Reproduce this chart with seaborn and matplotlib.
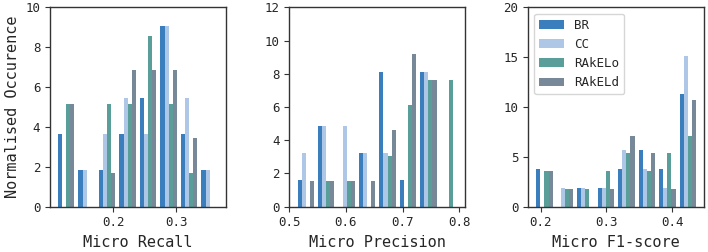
import numpy as np
import pandas as pd
import matplotlib
matplotlib.use("Agg")
import matplotlib.pyplot as plt
import seaborn as sns

methods = ["BR", "CC", "RAkELo", "RAkELd"]
colors = ["#3b7ebd", "#afc7e6", "#5a9e9a", "#778899"]

# bin centres and normalised heights
recall_bins = [0.1257, 0.1581, 0.1905, 0.2229, 0.2553, 0.2877, 0.3201, 0.3525]
recall_br = [3.63, 1.82, 1.82, 3.63, 5.45, 9.08, 3.63, 1.82]
recall_cc = [0.0, 1.82, 3.63, 5.45, 3.63, 9.08, 5.45, 1.82]
recall_rakelo = [5.14, 0.0, 5.14, 5.14, 8.57, 5.14, 1.71, 0.0]
recall_rakeld = [5.14, 0.0, 1.71, 6.86, 6.86, 6.86, 3.43, 0.0]

prec_bins = [0.5295, 0.5655, 0.6015, 0.6375, 0.6735, 0.7095, 0.7455, 0.7815]
prec_br = [1.62, 4.86, 0.0, 3.24, 8.10, 1.62, 8.10, 0.0]
prec_cc = [3.24, 4.86, 4.86, 3.24, 3.24, 0.0, 8.10, 0.0]
prec_rakelo = [0.0, 1.53, 1.53, 0.0, 3.06, 6.12, 7.65, 7.65]
prec_rakeld = [1.53, 1.53, 1.53, 1.53, 4.59, 9.18, 7.65, 0.0]

f1_bins = [0.2056, 0.2368, 0.2680, 0.2992, 0.3304, 0.3616, 0.3928, 0.4240]
f1_br = [3.77, 0.0, 1.88, 1.88, 3.77, 5.65, 3.77, 11.3]
f1_cc = [0.0, 1.88, 1.88, 1.88, 5.65, 3.77, 1.88, 15.07]
f1_rakelo = [3.56, 1.78, 1.78, 3.56, 5.34, 3.56, 5.34, 7.12]
f1_rakeld = [3.56, 1.78, 0.0, 1.78, 7.12, 5.34, 1.78, 10.68]


def make_frame(bins, series):
    rows = []
    for name, vals in zip(methods, series):
        for b, v in zip(bins, vals):
            rows.append({"bin": b, "height": v, "method": name})
    return pd.DataFrame(rows)


panels = [
    (make_frame(recall_bins, [recall_br, recall_cc, recall_rakelo, recall_rakeld]),
     "Micro Recall", [0.2, 0.3], (0, 10), np.arange(0, 11, 2)),
    (make_frame(prec_bins, [prec_br, prec_cc, prec_rakelo, prec_rakeld]),
     "Micro Precision", [0.5, 0.6, 0.7, 0.8], (0, 12), np.arange(0, 13, 2)),
    (make_frame(f1_bins, [f1_br, f1_cc, f1_rakelo, f1_rakeld]),
     "Micro F1-score", [0.2, 0.3, 0.4], (0, 20), np.arange(0, 21, 5)),
]

sns.set_style("ticks")
plt.rcParams["font.family"] = ["DejaVu Sans Mono"]
plt.rcParams["axes.edgecolor"] = "#333333"

fig, axes = plt.subplots(1, 3, figsize=(7.08, 2.52), dpi=100)
fig.subplots_adjust(left=0.0706, right=0.9944, bottom=0.18, top=0.971, wspace=0.36)

for i, (ax, (df, xlabel, xticks, ylim, yticks)) in enumerate(zip(axes, panels)):
    sns.barplot(data=df, x="bin", y="height", hue="method", hue_order=methods,
                palette=colors, native_scale=True, saturation=1, errorbar=None,
                width=0.8, ax=ax, legend=(i == 2), linewidth=0)
    ax.set_xticks(xticks)
    ax.set_xticklabels([f"{t:.1f}" for t in xticks])
    ax.set_ylim(*ylim)
    ax.set_yticks(yticks)
    ax.set_xlabel(xlabel, fontsize=11)
    ax.set_ylabel("Normalised Occurence" if i == 0 else "", fontsize=11)
    ax.tick_params(labelsize=9, color="#333333")
    for s in ax.spines.values():
        s.set_visible(True)
        s.set_linewidth(1.0)

sns.move_legend(axes[2], "upper left", title=None, fontsize=9, frameon=True)

fig.savefig("out.png", dpi=100)
